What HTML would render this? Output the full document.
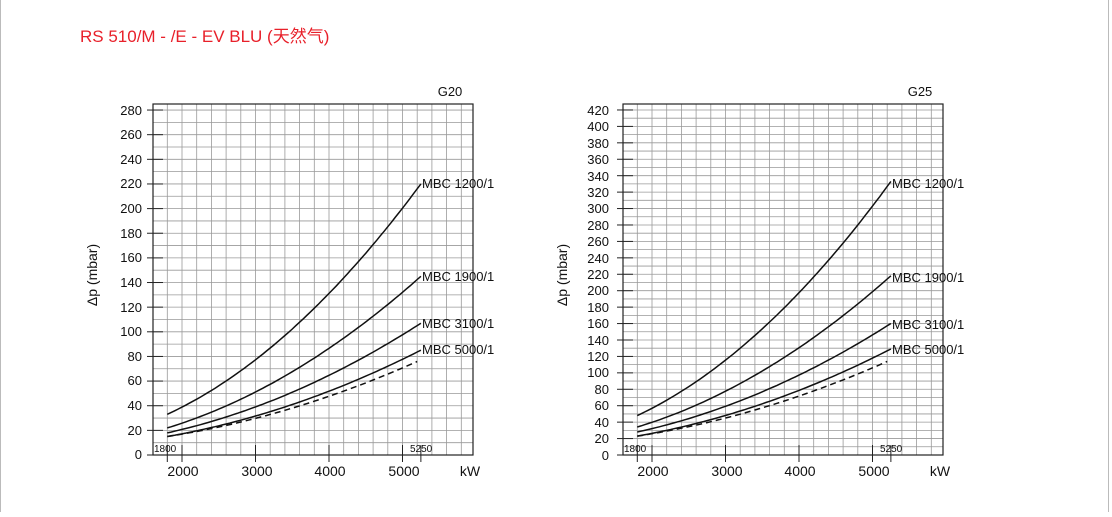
<!DOCTYPE html><html><head><meta charset="utf-8"><style>
body{margin:0;background:#fff;width:1112px;height:512px;overflow:hidden;font-family:"Liberation Sans","Noto Sans CJK SC",sans-serif}
</style></head><body>
<svg id="s" width="1112" height="512" xmlns="http://www.w3.org/2000/svg" font-family="Liberation Sans, Noto Sans CJK SC, sans-serif">
<line x1="0.5" y1="0" x2="0.5" y2="512" stroke="#bbb"/>
<line x1="1108.5" y1="0" x2="1108.5" y2="512" stroke="#bbb"/>
<text x="80" y="42" fill="#e8202a" font-size="17">RS 510/M - /E - EV BLU (天然气)</text>
<g id="c1"></g><g id="c2"></g>
<g font-size="13" fill="#111" text-anchor="end">
<text x="142" y="459">0</text><text x="142" y="435">20</text><text x="142" y="410">40</text><text x="142" y="385">60</text><text x="142" y="361">80</text><text x="142" y="336">100</text><text x="142" y="312">120</text><text x="142" y="287">140</text><text x="142" y="262">160</text><text x="142" y="238">180</text><text x="142" y="213">200</text><text x="142" y="188">220</text><text x="142" y="164">240</text><text x="142" y="139">260</text><text x="142" y="115">280</text>
</g>
<g font-size="13" fill="#111" text-anchor="end">
<text x="609" y="460">0</text><text x="609" y="443">20</text><text x="609" y="427">40</text><text x="609" y="410">60</text><text x="609" y="394">80</text><text x="609" y="377">100</text><text x="609" y="361">120</text><text x="609" y="345">140</text><text x="609" y="328">160</text><text x="609" y="312">180</text><text x="609" y="295">200</text><text x="609" y="279">220</text><text x="609" y="263">240</text><text x="609" y="246">260</text><text x="609" y="230">280</text><text x="609" y="213">300</text><text x="609" y="197">320</text><text x="609" y="181">340</text><text x="609" y="164">360</text><text x="609" y="148">380</text><text x="609" y="131">400</text><text x="609" y="115">420</text>
</g>
<g font-size="14" fill="#111" text-anchor="middle">
<text x="183" y="476">2000</text><text x="257" y="476">3000</text><text x="330" y="476">4000</text><text x="404" y="476">5000</text><text x="470" y="476">kW</text>
<text x="653" y="476">2000</text><text x="727" y="476">3000</text><text x="800" y="476">4000</text><text x="874" y="476">5000</text><text x="940" y="476">kW</text>
<text x="450" y="96" font-size="13">G20</text><text x="920" y="96" font-size="13">G25</text>
</g>
<g font-size="10" fill="#111">
<text x="154" y="452">1800</text><text x="410" y="452">5250</text>
<text x="624" y="452">1800</text><text x="880" y="452">5250</text>
</g>
<text transform="translate(97,275) rotate(-90)" font-size="14" text-anchor="middle" fill="#111">Δp (mbar)</text>
<text transform="translate(567,275) rotate(-90)" font-size="14" text-anchor="middle" fill="#111">Δp (mbar)</text>
<g font-size="13" fill="#111">
<text x="422" y="188">MBC 1200/1</text><text x="422" y="281">MBC 1900/1</text><text x="422" y="328">MBC 3100/1</text><text x="422" y="354">MBC 5000/1</text>
<text x="892" y="188">MBC 1200/1</text><text x="892" y="282">MBC 1900/1</text><text x="892" y="329">MBC 3100/1</text><text x="892" y="354">MBC 5000/1</text>
</g>
</svg>
<script>
function chart(id,L,ymax,pxPer20,curves){
 var g=document.getElementById(id),h='';
 var X=function(q){return L+29+(q-2000)*0.0735};
 var B=455,T=104,R=L+320;
 var Y=function(p){return B-p/20*pxPer20};
 for(var q=1600;q<=6000;q+=200){var x=X(q);if(x>L&&x<R)h+='<line x1="'+x+'" y1="'+T+'" x2="'+x+'" y2="'+B+'" stroke="#999" stroke-width="0.8"/>';}
 for(var p=10;p<=ymax;p+=10){var y=Y(p);if(y>T)h+='<line x1="'+L+'" y1="'+y+'" x2="'+R+'" y2="'+y+'" stroke="#999" stroke-width="0.8"/>';}
 for(var p=0;p<=ymax;p+=20){var y=Y(p);h+='<line x1="'+(L-6)+'" y1="'+y+'" x2="'+(L+10)+'" y2="'+y+'" stroke="#222"/>';}
 [1800,2000,3000,4000,5000,5250].forEach(function(q){var x=X(q);h+='<line x1="'+x+'" y1="'+(B-10)+'" x2="'+x+'" y2="'+(B+7)+'" stroke="#222"/>';});
 h+='<rect x="'+L+'" y="'+T+'" width="320" height="'+(B-T)+'" fill="none" stroke="#222" stroke-width="1.2"/>';
 curves.forEach(function(c){var d='',e=c[3]||5250;for(var q=1800;q<=e;q+=50){var k=q/1000;d+=(q==1800?'M':'L')+X(q).toFixed(1)+','+Y(c[1]+c[0]*k*k).toFixed(1);}
 h+='<path d="'+d+'" fill="none" stroke="#111" stroke-width="1.5"'+(c[2]?' stroke-dasharray="6,4"':'')+'/>';});
 g.innerHTML=h;
}
chart('c1',153,280,24.64,[[7.69,8.1],[5.06,5.6],[3.66,6.1],[2.88,5.7],[2.56,6.7,1,5200]]);
chart('c2',623,420,16.43,[[11.72,10],[7.57,9.5],[5.43,10.4],[4.36,8.9],[3.82,10.6,1,5200]]);
</script>
</body></html>
